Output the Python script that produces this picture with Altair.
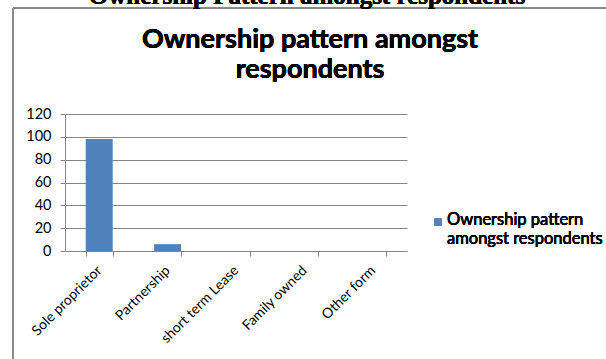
import altair as alt
import pandas as pd

categories = ["Sole proprietor", "Partnership", "short term Lease", "Family owned", "Other form"]
values = [98, 6, 0, 0, 0]
series_name = "Ownership pattern amongst respondents"
legend_lines = ["Ownership pattern", "amongst respondents"]
chart_title = ["Ownership pattern amongst", "respondents"]
page_heading = "Ownership Pattern amongst respondents"
y_ticks = [0, 20, 40, 60, 80, 100, 120]

df = pd.DataFrame({"category": categories, "value": values, "series": [series_name] * len(categories)})

FONT = "Lato"
BLUE = "#4F81BD"
GREY = "#868686"
L, T, R, B = 65, 114, 606 - 407, 359 - 251

bars = alt.Chart(df).mark_bar(size=27, color=BLUE).encode(
    x=alt.X("category:N", sort=categories, title=None,
            scale=alt.Scale(paddingInner=0.6, paddingOuter=0.3),
            axis=alt.Axis(labelAngle=-45, labelAlign="right", labelBaseline="middle",
                          labelFont=FONT, labelFontSize=14, labelColor="#000000",
                          labelPadding=12, tickBand="extent", tickSize=5,
                          tickColor=GREY, domainColor=GREY, grid=False)),
    y=alt.Y("value:Q", title=None, scale=alt.Scale(domain=[0, 120], nice=False),
            axis=alt.Axis(values=y_ticks, labelFont=FONT, labelFontSize=14.5, labelColor="#000000",
                          tickSize=5, tickColor=GREY, domainColor=GREY,
                          gridColor=GREY, gridWidth=1, labelPadding=9)),
)

frame = alt.Chart(df).mark_rect(fill=None, stroke=GREY, strokeWidth=1).encode(
    x=alt.value(13 - L), x2=alt.value(700), y=alt.value(8 - T), y2=alt.value(400)
)

title = alt.Chart(df).mark_text(font=FONT, fontSize=27, fontWeight="bold", color="#000000",
                                lineHeight=30, baseline="top", align="center").encode(
    x=alt.value(310 - L), y=alt.value(27 - T), text=alt.value(chart_title)
)

top_text = alt.Chart(df).mark_text(font="Liberation Serif", fontSize=25, fontWeight="bold",
                                   color="#000000", baseline="alphabetic", align="center").encode(
    x=alt.value(307 - L), y=alt.value(4 - T), text=alt.value(page_heading)
)

legend_symbol = alt.Chart(df).mark_square(size=49, color=BLUE, opacity=1).encode(
    x=alt.value(438 - L), y=alt.value(222 - T)
)

legend_text = alt.Chart(df).mark_text(font=FONT, fontSize=16.5, color="#000000",
                                      lineHeight=19, baseline="top", align="left").encode(
    x=alt.value(447 - L), y=alt.value(212 - T), text=alt.value(legend_lines)
)

chart = alt.layer(frame, bars, title, top_text, legend_symbol, legend_text).properties(
    width=342, height=137,
    padding={"left": L, "top": T, "right": R, "bottom": B},
    autosize=alt.AutoSizeParams(type="none"),
    background="#ffffff",
).configure_view(stroke=None)

chart.save("out.html", embed_options={"renderer": "svg", "actions": False})
